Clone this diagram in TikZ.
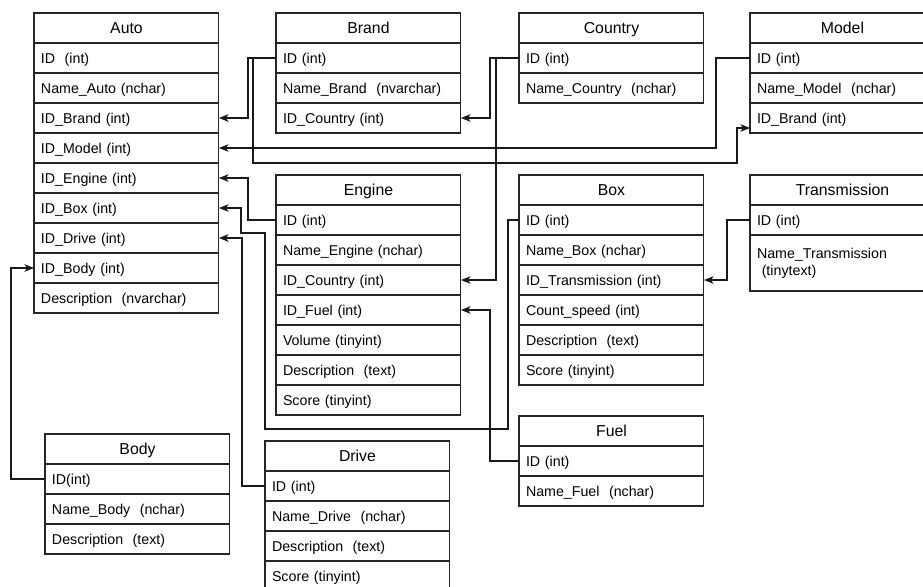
\documentclass[tikz,border=0pt]{standalone}
\usepackage{fontspec}
\setmainfont{Liberation Sans}
\usetikzlibrary{arrows.meta}

\begin{document}
\begin{tikzpicture}[
  x=0.02cm, y=-0.02cm,
  % Table styles
  cell/.style={draw=black!85, line width=0.6pt, outer sep=0pt, minimum height=0.6cm,
               text width=3.42cm, inner xsep=0.14cm, inner ysep=0pt, anchor=north west,
               text height=1.6ex, text depth=0.45ex},
  hdr/.style={cell, align=center, font=\fontsize{9}{11}\selectfont},
  row/.style={cell, align=left, font=\fontsize{8.1}{9.6}\selectfont},
  % Edge style
  fk/.style={-{Stealth[length=0.19cm, width=0.15cm, inset=0.05cm]}, black!90, line width=0.6pt},
]

\useasboundingbox (0,0) rectangle (923,586);
\fill[white] (0,0) rectangle (923,586);
\clip (0,0) rectangle (923,586);

% === AUTO ===
\node[hdr] (auto)        at (34,13)  {Auto};
\node[row] (auto-id)     at (34,43)  {ID~ (int)};
\node[row] (auto-name)   at (34,73)  {Name\_Auto (nchar)};
\node[row] (auto-brand)  at (34,103) {ID\_Brand (int)};
\node[row] (auto-model)  at (34,133) {ID\_Model (int)};
\node[row] (auto-engine) at (34,163) {ID\_Engine (int)};
\node[row] (auto-box)    at (34,193) {ID\_Box (int)};
\node[row] (auto-drive)  at (34,223) {ID\_Drive (int)};
\node[row] (auto-body)   at (34,253) {ID\_Body (int)};
\node[row] (auto-descr)  at (34,283) {Description~ (nvarchar)};

% === BRAND ===
\node[hdr] (brand)         at (276,13)  {Brand};
\node[row] (brand-id)      at (276,43)  {ID (int)};
\node[row] (brand-name)    at (276,73)  {Name\_Brand~ (nvarchar)};
\node[row] (brand-country) at (276,103) {ID\_Country (int)};

% === COUNTRY ===
\node[hdr] (country)      at (519,13) {Country};
\node[row] (country-id)   at (519,43) {ID (int)};
\node[row] (country-name) at (519,73) {Name\_Country~ (nchar)};

% === MODEL ===
\node[hdr] (model)       at (750,13)  {Model};
\node[row] (model-id)    at (750,43)  {ID (int)};
\node[row] (model-name)  at (750,73)  {Name\_Model~ (nchar)};
\node[row] (model-brand) at (750,103) {ID\_Brand (int)};

% === ENGINE ===
\node[hdr] (engine)         at (276,175) {Engine};
\node[row] (engine-id)      at (276,205) {ID (int)};
\node[row] (engine-name)    at (276,235) {Name\_Engine (nchar)};
\node[row] (engine-country) at (276,265) {ID\_Country (int)};
\node[row] (engine-fuel)    at (276,295) {ID\_Fuel (int)};
\node[row] (engine-volume)  at (276,325) {Volume (tinyint)};
\node[row] (engine-descr)   at (276,355) {Description~ (text)};
\node[row] (engine-score)   at (276,385) {Score (tinyint)};

% === BOX ===
\node[hdr] (box)        at (519,175) {Box};
\node[row] (box-id)     at (519,205) {ID (int)};
\node[row] (box-name)   at (519,235) {Name\_Box (nchar)};
\node[row] (box-trans)  at (519,265) {ID\_Transmission (int)};
\node[row] (box-speed)  at (519,295) {Count\_speed (int)};
\node[row] (box-descr)  at (519,325) {Description~ (text)};
\node[row] (box-score)  at (519,355) {Score (tinyint)};

% === TRANSMISSION ===
\node[hdr] (trans)      at (750,175) {Transmission};
\node[row] (trans-id)   at (750,205) {ID (int)};
\node[row, minimum height=1.12cm, text depth=2.6ex] (trans-name) at (750,235) {Name\_Transmission\\~(tinytext)};

% === FUEL ===
\node[hdr] (fuel)      at (519,416) {Fuel};
\node[row] (fuel-id)   at (519,446) {ID (int)};
\node[row] (fuel-name) at (519,476) {Name\_Fuel~ (nchar)};

% === BODY ===
\node[hdr] (body)       at (45,434) {Body};
\node[row] (body-id)    at (45,464) {ID(int)};
\node[row] (body-name)  at (45,494) {Name\_Body~ (nchar)};
\node[row] (body-descr) at (45,524) {Description~ (text)};

% === DRIVE ===
\node[hdr] (drive)       at (265,441) {Drive};
\node[row] (drive-id)    at (265,471) {ID (int)};
\node[row] (drive-name)  at (265,501) {Name\_Drive~ (nchar)};
\node[row] (drive-descr) at (265,531) {Description~ (text)};
\node[row] (drive-score) at (265,561) {Score (tinyint)};

% ============================================================
% FOREIGN KEYS
% ============================================================
\coordinate (mb1) at (253,163);
\coordinate (mb2) at (737,163);
\coordinate (bx1) at (265,429);
\coordinate (bx2) at (241,233);

\draw[fk] (brand-id.west)   -- ++(-28,0) |- (auto-brand.east);
\draw[fk] (model-id.west)   -- ++(-34,0) |- (auto-model.east);
\draw[fk] (brand-id.west)   -| (mb1) -- (mb2) |- ([yshift=-0.2cm]model-brand.west);
\draw[fk] (country-id.west) -- ++(-29,0) |- (brand-country.east);
\draw[fk] (country-id.west) -- ++(-23,0) |- (engine-country.east);
\draw[fk] (engine-id.west)  -- ++(-28,0) |- (auto-engine.east);
\draw[fk] (box-id.west)     -- ++(-11,0) |- (bx1) |- (bx2) |- (auto-box.east);
\draw[fk] (drive-id.west)   -- ++(-23,0) |- (auto-drive.east);
\draw[fk] (fuel-id.west)    -- ++(-29,0) |- (engine-fuel.east);
\draw[fk] (trans-id.west)   -- ++(-23,0) |- (box-trans.east);
\draw[fk] (body-id.west)    -- ++(-34,0) |- (auto-body.west);

\end{tikzpicture}
\end{document}
